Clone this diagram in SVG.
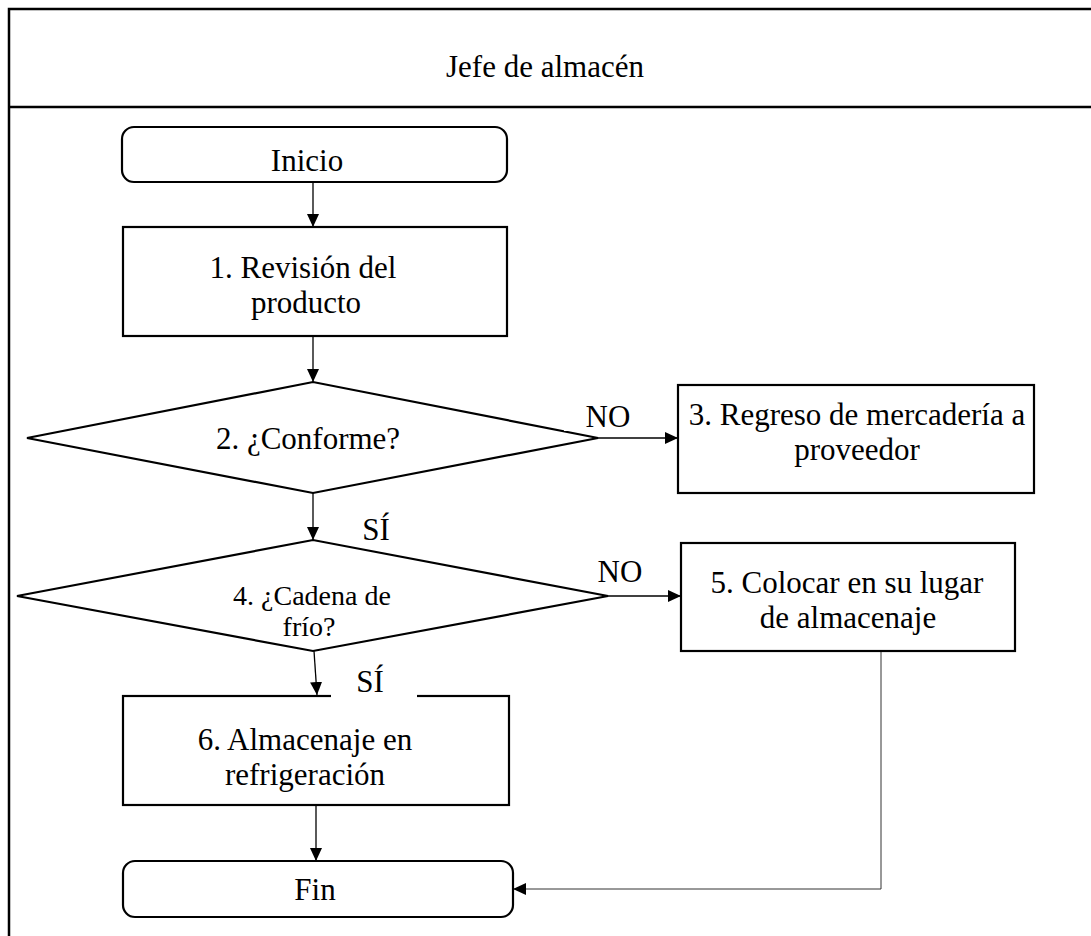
<svg xmlns="http://www.w3.org/2000/svg" width="1091" height="936" viewBox="0 0 1091 936">
  <style>
    .frame { fill: none; stroke: #000; stroke-width: 2.5; }
    .shape { fill: #fff; stroke: #000; stroke-width: 2.2; }
    .flow { fill: none; stroke: #000; stroke-width: 1.3; }
    .thin { fill: none; stroke: #333; stroke-width: 1; }
    .txt { font-family: "Liberation Serif", "Times New Roman", serif; font-size: 31px; fill: #000; text-anchor: middle; }
    .small { font-size: 28px; }
    .bg { fill: #fff; stroke: none; }
  </style>
  <defs>
    <marker id="arrow" markerUnits="userSpaceOnUse" markerWidth="13" markerHeight="12" refX="13" refY="6" orient="auto">
      <path d="M0,0 L13,6 L0,12 z" fill="#000"/>
    </marker>
  </defs>

  <rect width="1091" height="936" fill="#fff"/>

  <!-- swimlane frame, running past the right and bottom edges -->
  <g id="lane">
    <rect class="frame" x="9" y="9" width="1100" height="940"/>
    <line class="frame" x1="9" y1="107" x2="1100" y2="107"/>
    <text class="txt" x="545" y="77">Jefe de almacén</text>
  </g>

  <!-- connectors -->
  <g id="connectors">
    <line class="flow" x1="313" y1="182" x2="313" y2="227" marker-end="url(#arrow)"/>
    <line class="flow" x1="313" y1="336" x2="313" y2="382" marker-end="url(#arrow)"/>
    <line class="flow" x1="598" y1="438" x2="678" y2="438" marker-end="url(#arrow)"/>
    <line class="flow" x1="313" y1="493" x2="313" y2="540" marker-end="url(#arrow)"/>
    <line class="flow" x1="608" y1="596" x2="681" y2="596" marker-end="url(#arrow)"/>
    <line class="flow" x1="314" y1="651" x2="317" y2="695" marker-end="url(#arrow)"/>
    <line class="flow" x1="316" y1="805" x2="316" y2="861" marker-end="url(#arrow)"/>
    <polyline class="thin" points="881,651 881,889 513,889" marker-end="url(#arrow)"/>
  </g>

  <g id="inicio">
    <rect class="shape" x="122" y="127" width="385" height="55" rx="12"/>
    <text class="txt" x="307" y="171">Inicio</text>
  </g>

  <g id="paso1">
    <rect class="shape" x="123" y="227" width="384" height="109"/>
    <text class="txt" x="303" y="278">1. Revisión del</text>
    <text class="txt" x="306" y="313">producto</text>
  </g>

  <g id="decision2">
    <polygon class="shape" points="27,438 313,382 598,438 313,493"/>
    <text class="txt" x="308" y="449">2. ¿Conforme?</text>
    <rect class="bg" x="564" y="400" width="76" height="31"/>
    <text class="txt" x="608" y="427">NO</text>
  </g>

  <g id="paso3">
    <rect class="shape" x="678" y="385" width="356" height="108"/>
    <text class="txt" x="857" y="425">3. Regreso de mercadería a</text>
    <text class="txt" x="857" y="460">proveedor</text>
  </g>

  <g id="decision4">
    <text class="txt" x="376" y="540">SÍ</text>
    <polygon class="shape" points="17,596 313,540 608,596 313,651"/>
    <text class="txt small" x="312" y="605">4. ¿Cadena de</text>
    <text class="txt small" x="309" y="636">frío?</text>
    <text class="txt" x="620" y="582">NO</text>
  </g>

  <g id="paso5">
    <rect class="shape" x="681" y="543" width="334" height="108"/>
    <text class="txt" x="847" y="593">5. Colocar en su lugar</text>
    <text class="txt" x="848" y="628">de almacenaje</text>
  </g>

  <g id="paso6">
    <rect class="shape" x="123" y="696" width="386" height="109"/>
    <rect class="bg" x="331" y="664" width="86" height="34"/>
    <text class="txt" x="370" y="692">SÍ</text>
    <text class="txt" x="305" y="750">6. Almacenaje en</text>
    <text class="txt" x="305" y="785">refrigeración</text>
  </g>

  <g id="fin">
    <rect class="shape" x="123" y="861" width="390" height="56" rx="12"/>
    <text class="txt" x="315" y="900">Fin</text>
  </g>
</svg>
